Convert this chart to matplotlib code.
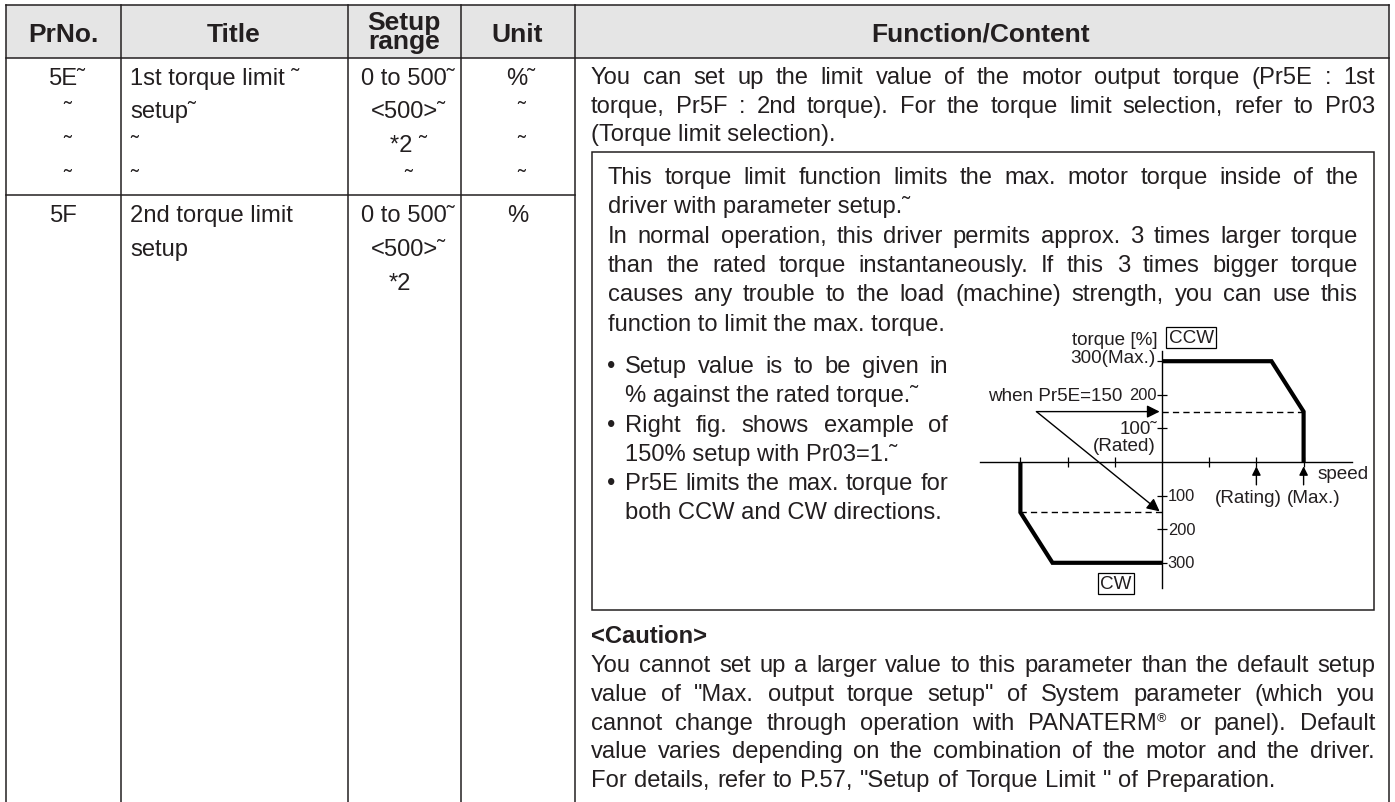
import matplotlib
matplotlib.use('Agg')
import matplotlib.pyplot as plt
from matplotlib.patches import Rectangle

plt.rcParams['font.family'] = ['Liberation Sans', 'DejaVu Sans']

W, H = 1395, 803
ink = '#231f20'
body_size = 17.1
chart_size = 13.6
number_size = 11.8

# table
col_lines = [5.5, 120.5, 347.5, 461, 574.5, 1389]
header_labels = ['PrNo.', 'Title', 'Unit', 'Function/Content']
header_x = [63, 234, 517, 981]
row_y = [85, 118, 152, 186, 222, 256, 290]
prno_cells = ['5E˜', '˜', '˜', '˜', '5F', '', '']
prno_x = [67, 67, 67, 67, 64, 64, 64]
title_cells = ['1st torque limit ˜', 'setup˜', '˜', '˜', '2nd torque limit', 'setup', '']
range_cells = ['0 to 500˜', '<500>˜', '*2 ˜', '˜', '0 to 500˜', '<500>˜', '*2']
range_x = [408, 408, 408, 408, 408, 408, 400]
unit_cells = ['%˜', '˜', '˜', '˜', '%', '', '']
unit_x = [521, 521, 521, 521, 518, 518, 518]

# function text, justified lines carry a True
intro_lines = [
    ('You can set up the limit value of the motor output torque (Pr5E : 1st', True),
    ('torque, Pr5F : 2nd torque). For the torque limit selection, refer to Pr03', True),
    ('(Torque limit selection).', False),
]
box_lines = [
    ('This torque limit function limits the max. motor torque inside of the', True),
    ('driver with parameter setup.˜', False),
    ('In normal operation, this driver permits approx. 3 times larger torque', True),
    ('than the rated torque instantaneously.  If this 3 times bigger torque', True),
    ('causes any trouble to the load (machine) strength, you can use this', True),
    ('function to limit the max. torque.', False),
]
bullet_lines = [
    ('Setup value is to be given in', True, True),
    ('% against the rated torque.˜', False, False),
    ('Right fig. shows example of', True, True),
    ('150% setup with Pr03=1.˜', False, False),
    ('Pr5E limits the max. torque for', True, True),
    ('both CCW and CW directions.', False, False),
]
caution_lines = [
    'You cannot set up a larger value to this parameter than the default setup',
    'value of "Max. output torque setup" of System parameter (which you',
    'cannot change through operation with PANATERM® or panel). Default',
    'value varies depending on the combination of the motor and the driver.',
    'For details, refer to P.57, "Setup of Torque Limit " of Preparation.',
]
caution_right = [1375, 1375, 1375, 1375, 1275]

# torque curve, speed in tick units, torque in %
ccw_speed = [0, 2.32, 3, 3]
ccw_torque = [300, 300, 150, 0]
cw_speed = [-3, -3, -2.32, 0]
cw_torque = [0, -150, -300, -300]
limit = 150
speed_ticks = [-3, -2, -1, 1, 2, 3]
torque_ticks = [-300, -200, -100, 100, 200, 300]

fig = plt.figure(figsize=(W / 100, H / 100), dpi=100)
ax = fig.add_axes([0, 0, 1, 1])
ax.set_xlim(0, W)
ax.set_ylim(H, 0)
ax.axis('off')
rend = fig.canvas.get_renderer()


def put(x, y, s, size=body_size, ha='left', weight='normal'):
    return ax.text(x, y, s, fontsize=size, ha=ha, va='baseline', color=ink, fontweight=weight)


def justified(x0, x1, y, s):
    words = s.split()
    items = [put(0, y, w.rstrip('®')) for w in words]
    widths = [t.get_window_extent(rend).width for t in items]
    # the registered mark sits small and raised after its word
    extra = [10 if w.endswith('®') else 0 for w in words]
    gap = (x1 - x0 - sum(widths) - sum(extra)) / (len(words) - 1)
    x = x0
    for t, w, e in zip(items, widths, extra):
        t.set_x(x)
        if e:
            put(x + w, y - 8, '®', size=9)
        x += w + e + gap


# header band and grid
ax.add_patch(Rectangle((col_lines[0], 6), col_lines[-1] - col_lines[0], 53, fc='#e5e5e5', ec='none'))
for x in col_lines:
    ax.plot([x, x], [6, H], color=ink, lw=1.1)
ax.plot([col_lines[0], col_lines[-1]], [6, 6], color=ink, lw=1.1)
ax.plot([col_lines[0], col_lines[-1]], [59, 59], color=ink, lw=1.1)
ax.plot([col_lines[0], col_lines[4]], [195.5, 195.5], color=ink, lw=1.1)

for x, s in zip(header_x, header_labels):
    put(x, 42, s, size=19, ha='center', weight='bold')
put(404, 30, 'Setup', size=19, ha='center', weight='bold')
put(404, 49, 'range', size=19, ha='center', weight='bold')

for i, y in enumerate(row_y):
    put(prno_x[i], y, prno_cells[i], ha='center')
    put(130, y, title_cells[i])
    put(range_x[i], y, range_cells[i], ha='center')
    put(unit_x[i], y, unit_cells[i], ha='center')

y = 84
for s, just in intro_lines:
    if just:
        justified(591, 1375, y, s)
    else:
        put(591, y, s)
    y += 28.7

ax.add_patch(Rectangle((592, 152.5), 782, 458.5, fc='none', ec=ink, lw=1.1))

y = 184
for s, just in box_lines:
    if just:
        justified(608, 1358, y, s)
    else:
        put(608, y, s)
    y += 29.3

y = 373
for s, just, bullet in bullet_lines:
    if bullet:
        put(607, y, '•')
    if just:
        justified(625, 948, y, s)
    else:
        put(625, y, s)
    y += 29.3

put(591, 643, '<Caution>', weight='bold')
y = 672
for s, x1 in zip(caution_lines, caution_right):
    justified(591, x1, y, s)
    y += 28.8

# torque diagram, its own axes with spines through the origin
px_x0, px_x1, px_top, px_bot = 980, 1352, 352, 589
org_x, org_y = 1162, 463
per_tick = 47.2
per_pct = 0.336
dax = fig.add_axes([px_x0 / W, 1 - px_bot / H, (px_x1 - px_x0) / W, (px_bot - px_top) / H])
dax.patch.set_alpha(0)
dax.set_xlim((px_x0 - org_x) / per_tick, (px_x1 - org_x) / per_tick)
dax.set_ylim((org_y - px_bot) / per_pct, (org_y - px_top) / per_pct)
for side in ['top', 'right']:
    dax.spines[side].set_visible(False)
for side in ['left', 'bottom']:
    dax.spines[side].set_position(('data', 0))
    dax.spines[side].set_color('black')
    dax.spines[side].set_linewidth(1.0)
dax.set_xticks(speed_ticks)
dax.set_yticks(torque_ticks)
dax.set_xticklabels([])
dax.set_yticklabels([])
dax.tick_params(direction='inout', length=7, width=0.9)

dax.plot(ccw_speed, ccw_torque, color='black', lw=3, solid_joinstyle='miter', solid_capstyle='butt')
dax.plot(cw_speed, cw_torque, color='black', lw=3, solid_joinstyle='miter', solid_capstyle='butt')
dax.plot([0, 3], [limit, limit], color='black', lw=1, dashes=(4.5, 3))
dax.plot([-3, 0], [-limit, -limit], color='black', lw=1, dashes=(4.5, 3))

arrow = dict(arrowstyle='-|>', color='black', lw=1.0, mutation_scale=19, shrinkA=0, shrinkB=0)
dax.annotate('', xy=(-0.05, limit), xytext=(-2.66, limit), arrowprops=arrow)
dax.annotate('', xy=(-0.05, -limit + 3), xytext=(-2.66, limit), arrowprops=arrow)
small = dict(arrowstyle='-|>', color='black', lw=1.0, mutation_scale=13, shrinkA=0, shrinkB=0)
dax.annotate('', xy=(2, -13), xytext=(2, -68), arrowprops=small)
dax.annotate('', xy=(3, -13), xytext=(3, -68), arrowprops=small)


def dtext(x, y, s, ha='left', size=chart_size):
    dax.text(x, y, s, fontsize=size, ha=ha, va='center', color=ink, clip_on=False)


dtext(-0.14, 310, '300(Max.)', ha='right')
dtext(-0.11, 200, '200', ha='right', size=number_size)
dtext(-0.11, 100, '100˜', ha='right')
dtext(-0.14, 50, '(Rated)', ha='right')
dtext(0.12, -100, '100', size=number_size)
dtext(0.12, -200, '200', size=number_size)
dtext(0.12, -300, '300', size=number_size)
dtext(-1.0, 366, 'torque [%]', ha='center')
dtext(-3.68, 197, 'when Pr5E=150')
dtext(3.3, -33, 'speed')
dtext(1.82, -105, '(Rating)', ha='center')
dtext(3.22, -105, '(Max.)', ha='center')
box = dict(boxstyle='square,pad=0.12', fc='white', ec='black', lw=0.9)
dax.text(0.62, 370, 'CCW', fontsize=chart_size, ha='center', va='center', color=ink, bbox=box, clip_on=False)
dax.text(-0.97, -362, 'CW', fontsize=chart_size, ha='center', va='center', color=ink, bbox=box, clip_on=False)

fig.savefig('out.png', dpi=100)
